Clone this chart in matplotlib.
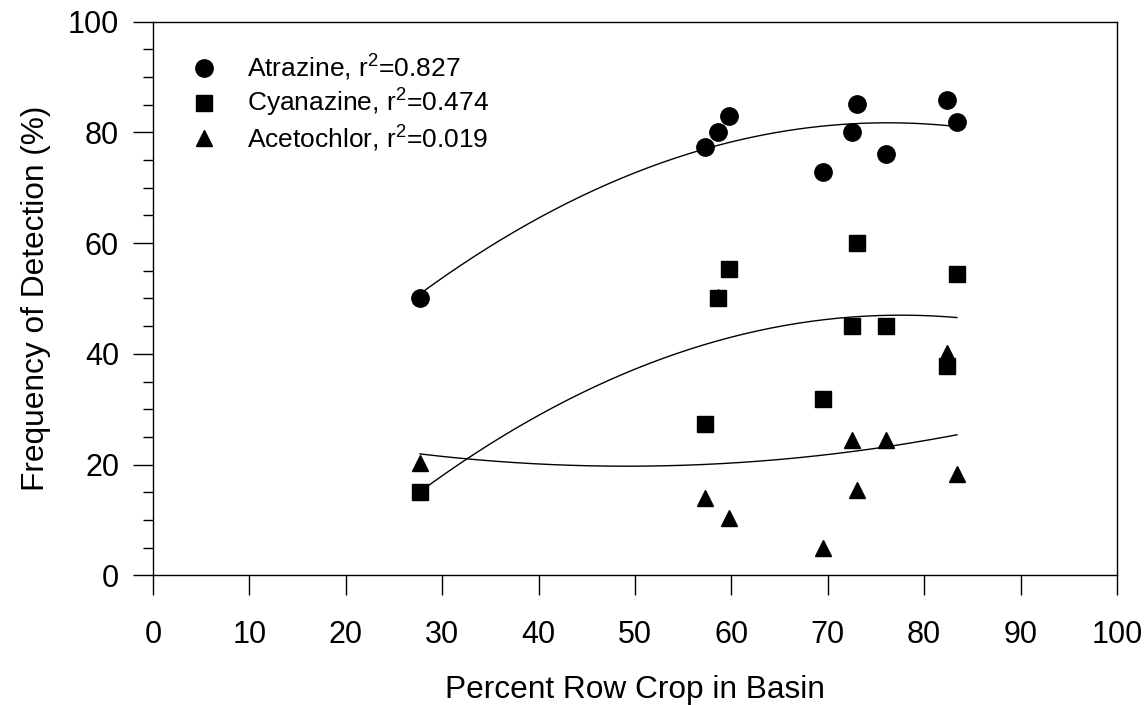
import matplotlib
matplotlib.use("Agg")
import matplotlib.pyplot as plt
import numpy as np
from matplotlib.ticker import MultipleLocator

plt.rcParams['font.family'] = 'Liberation Sans'
plt.rcParams['mathtext.fontset'] = 'custom'
plt.rcParams['mathtext.rm'] = 'Liberation Sans'
plt.rcParams['mathtext.it'] = 'Liberation Sans'

# percent row crop for each basin (same basins for every herbicide)
rowCrop = [27.7, 57.3, 58.6, 59.8, 69.5, 72.5, 73.0, 76.0, 82.4, 83.4]

# frequency of detection (%)
atrazine = [50.0, 77.3, 80.1, 82.9, 72.8, 80.1, 85.1, 76.0, 85.8, 81.8]
cyanazine = [15.1, 27.3, 50.0, 55.3, 31.8, 45.0, 60.0, 45.0, 37.9, 54.5]
acetochlor = [20.3, 13.9, 50.3, 10.3, 4.9, 24.5, 15.4, 24.5, 40.2, 18.4]

names = ["Atrazine", "Cyanazine", "Acetochlor"]
rSquared = ["0.827", "0.474", "0.019"]
markers = ["o", "s", "^"]
sizes = [12.5, 11, 12]
zorders = [3, 4, 3]

fig = plt.figure(figsize=(11.45, 7.05), dpi=100)
ax = fig.add_axes([0.1336, 0.1837, 0.8419, 0.7858])

xs = np.array(rowCrop)
xfit = np.linspace(xs.min(), xs.max(), 200)
for y, name, r2, m, s, z in zip([atrazine, cyanazine, acetochlor], names, rSquared, markers, sizes, zorders):
    ax.plot(rowCrop, y, linestyle="none", marker=m, markersize=s, color="black",
            label=name + ", r$^2$=" + r2, clip_on=False, zorder=z)
    # second order polynomial regression
    coef = np.polyfit(xs, y, 2)
    ax.plot(xfit, np.polyval(coef, xfit), color="black", linewidth=1.0)

ax.set_xlim(0, 100)
ax.set_ylim(0, 100)
ax.xaxis.set_major_locator(MultipleLocator(10))
ax.yaxis.set_major_locator(MultipleLocator(20))
ax.yaxis.set_minor_locator(MultipleLocator(5))
ax.tick_params(which="major", direction="out", length=14.4, width=1.0, labelsize=22, pad=10)
ax.tick_params(which="minor", direction="out", length=7.2, width=1.0)
ax.tick_params(axis="x", pad=18)
for sp in ax.spines.values():
    sp.set_linewidth(1.0)

ax.set_xlabel("Percent Row Crop in Basin", fontsize=22.8, labelpad=18)
ax.set_ylabel("Frequency of Detection (%)", fontsize=22.8, labelpad=12)

ax.legend(loc="upper left", bbox_to_anchor=(0.028, 0.962), frameon=False, fontsize=19,
          handlelength=1.0, handletextpad=1.15, labelspacing=0.15, borderaxespad=0)

plt.savefig("out.png", dpi=100)
